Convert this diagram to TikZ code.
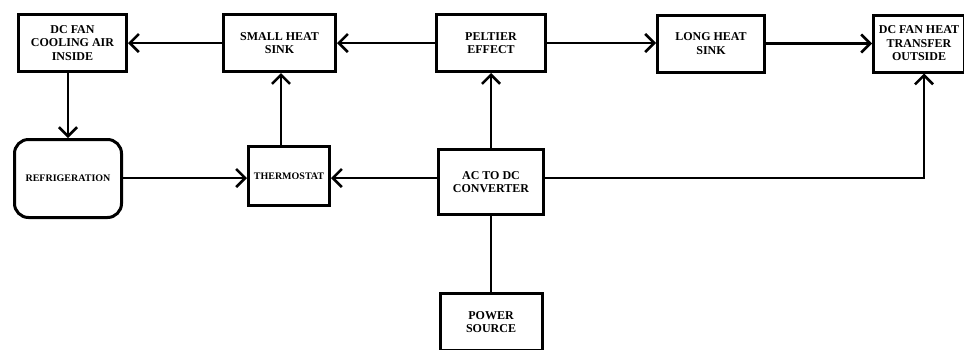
\documentclass[tikz,border=0pt]{standalone}
\usepackage{fontspec}
\setmainfont{Liberation Serif}
\usetikzlibrary{arrows.meta}
\begin{document}
\begin{tikzpicture}[x=1pt,y=-1pt,
  blk/.style={draw=black, line width=3pt, fill=white, inner sep=0pt, align=center,
    font=\fontsize{12}{13.5}\selectfont\bfseries},
  smallblk/.style={blk, font=\fontsize{10}{12}\selectfont\bfseries},
  arr/.style={line width=2.6pt, -{Straight Barb[length=9pt,width=18pt]}},
  ln/.style={line width=2.6pt}]
\useasboundingbox (0,0) rectangle (964,349);
\clip (0,0) rectangle (964,349);
\fill[white] (0,0) rectangle (964,349);
\node[blk, minimum width=108pt, minimum height=57pt] (fanin) at (72.5,43) {DC FAN\\COOLING AIR\\INSIDE};
\node[blk, minimum width=112pt, minimum height=57pt] (small) at (279.5,43) {SMALL HEAT\\SINK};
\node[blk, minimum width=109pt, minimum height=57pt] (peltier) at (491,43) {PELTIER\\EFFECT};
\node[blk, minimum width=107pt, minimum height=57pt] (long) at (711,43.5) {LONG HEAT\\SINK};
\node[blk, minimum width=91pt, minimum height=57pt] (fanout) at (919,43.5) {DC FAN HEAT\\TRANSFER\\OUTSIDE};
\node[smallblk, rounded corners=14pt, minimum width=107pt, minimum height=78pt] (refrig) at (68,178.5) {REFRIGERATION};
\node[smallblk, minimum width=81pt, minimum height=59pt] (thermo) at (289,176) {THERMOSTAT};
\node[blk, minimum width=105pt, minimum height=65pt] (acdc) at (491,182) {AC TO DC\\CONVERTER};
\node[blk, minimum width=102pt, minimum height=57pt] (power) at (491,322) {POWER\\SOURCE};
\coordinate (turn) at ([xshift=5pt]fanout.south |- 0,178);
% connectors
\draw[arr] (small.west) -- (fanin.east);
\draw[arr] (peltier.west) -- (small.east);
\draw[arr] (peltier.east) -- (long.west |- peltier.east);
\draw[arr] (long.east) -- (fanout.west);
\draw[arr] (refrig.north |- fanin.south) -- (refrig.north);
\draw[arr] (refrig.east |- 0,178) -- (thermo.west |- 0,178);
\draw[arr] ([xshift=-8pt]thermo.north) -- ([xshift=-8pt]thermo.north |- small.south);
\draw[arr] ([yshift=4pt]acdc.west) -- (thermo.east |- 0,178);
\draw[arr] (acdc.north) -- (peltier.south);
\draw[arr] ([yshift=4pt]acdc.east) -- (turn) -- ([xshift=5pt]fanout.south);
\draw[ln] (power.north) -- (acdc.south);
\end{tikzpicture}
\end{document}
